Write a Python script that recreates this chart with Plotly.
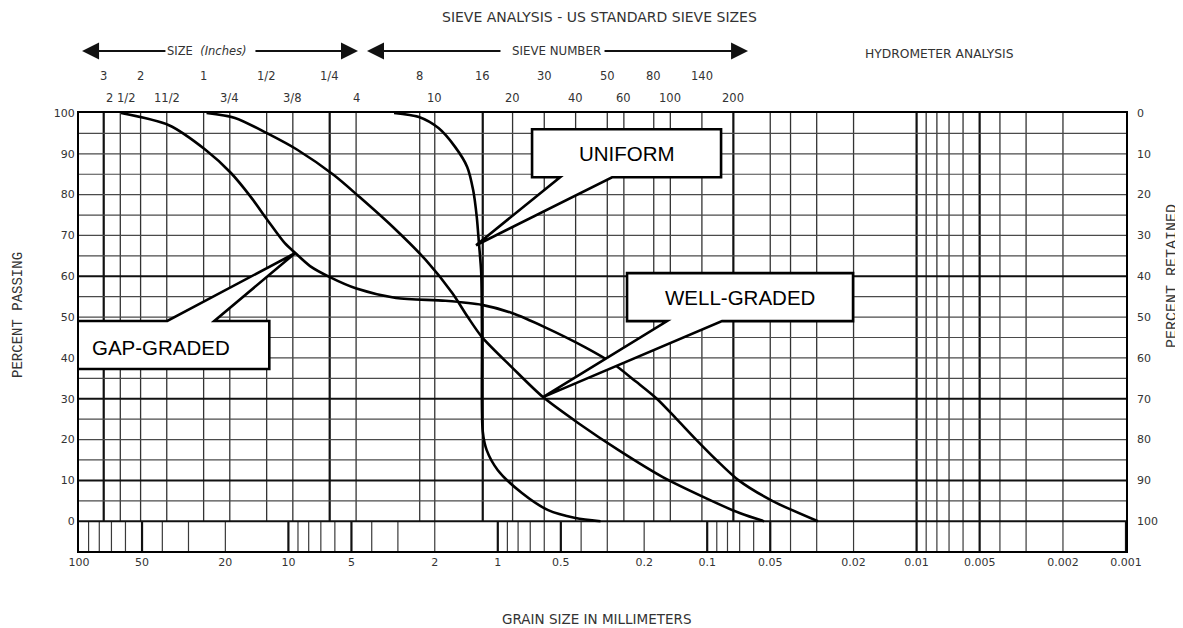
import math
import plotly.graph_objects as go

# ---------------- data: grain size (mm) vs percent passing ----------------
well_size = [24.6, 18.0, 12.6, 9.07, 6.07, 4.57, 3.16, 2.21, 1.65, 1.39, 1.19, 0.856,
             0.608, 0.412, 0.265, 0.163, 0.101, 0.070, 0.0535]
well_pass = [100, 98.8, 95, 91, 84.8, 79.4, 72, 64, 55.9, 50, 45.1, 37.7,
             30.4, 24, 17.4, 10.8, 5.6, 2, 0]

gap_size = [63, 37.2, 24.9, 18.8, 15.1, 12.6, 10.4, 9.27, 7.88, 6.34, 4.73, 3.06, 1.78,
            1.19, 0.856, 0.594, 0.382, 0.283, 0.219, 0.174, 0.141, 0.113, 0.0904,
            0.0707, 0.0489, 0.0296]
gap_pass = [100, 97, 91, 85.3, 79.4, 73.8, 68.1, 65.7, 62.5, 59.8, 57, 54.7, 54.0,
            53, 51, 47.5, 42.6, 38.7, 34.2, 30, 25.2, 20, 15,
            10, 5, 0]

uni_size = [3.13, 2.38, 1.92, 1.60, 1.40, 1.31, 1.26, 1.23, 1.20, 1.19, 1.18, 1.13,
            1.0, 0.767, 0.575, 0.426, 0.323]
uni_pass = [100, 99, 96.3, 91.7, 86.8, 81, 74.5, 68, 60.8, 45, 22, 17.4,
            12.5, 6.9, 2.7, 0.8, 0]

# sieve openings (mm) and their labels
inch_row1_size = [76.2, 50.8, 25.4, 12.7, 6.35]
inch_row1_text = ["3", "2", "1", "1/2", "1/4"]
inch_row2_size = [63.5, 38.1, 19.05, 9.525, 4.75]
inch_row2_text = ["2 1/2", "11/2", "3/4", "3/8", "4"]
sieve_row1_size = [2.36, 1.18, 0.6, 0.3, 0.18, 0.106]
sieve_row1_text = ["8", "16", "30", "50", "80", "140"]
sieve_row2_size = [2.0, 0.85, 0.425, 0.25, 0.15, 0.075]
sieve_row2_text = ["10", "20", "40", "60", "100", "200"]
hydro_sizes = [0.05, 0.04, 0.03, 0.02, 0.01, 0.009, 0.008, 0.007, 0.006,
               0.005, 0.004, 0.003, 0.002]
bold_sizes = [76.2, 6.35, 1.18, 0.075, 0.01, 0.005]

x_tickvals = [100, 50, 20, 10, 5, 2, 1, 0.5, 0.2, 0.1, 0.05, 0.02, 0.01, 0.005, 0.002, 0.001]
x_ticktext = ["100", "50", "20", "10", "5", "2", "1", "0.5", "0.2", "0.1", "0.05",
              "0.02", "0.01", "0.005", "0.002", "0.001"]
y_ticks = list(range(0, 101, 10))

# callouts: label, anchor (mm, % passing)
callouts = [
    ("UNIFORM", 1.27, 67.6),
    ("WELL-GRADED", 0.608, 30.4),
    ("GAP-GRADED", 9.27, 65.7),
]

YMIN = -7.3
TXT = "#333333"
FONT = "DejaVu Sans"
PLOT_W = 1047

fig = go.Figure()


def vsegs(xs, y0, y1):
    X, Y = [], []
    for v in xs:
        X += [v, v, None]
        Y += [y0, y1, None]
    return X, Y


def hsegs(ys, x0, x1):
    X, Y = [], []
    for v in ys:
        X += [x0, x1, None]
        Y += [v, v, None]
    return X, Y


def add_lines(X, Y, width, color):
    fig.add_trace(go.Scatter(x=X, y=Y, mode="lines", line=dict(color=color, width=width),
                             hoverinfo="skip", showlegend=False))


# main grid verticals
all_sieves = inch_row1_size + inch_row2_size + sieve_row1_size + sieve_row2_size + hydro_sizes
thin_v = [s for s in all_sieves if s not in bold_sizes]
add_lines(*vsegs(thin_v, 0, 100), 1.3, "#333333")
add_lines(*vsegs(bold_sizes, 0, 100), 2.2, "#111111")

# bottom strip: log minor ticks
strip_thin, strip_bold = [], []
for n in range(-3, 2):
    for k in range(1, 10):
        v = k * 10 ** n
        if v < 0.001 or v > 100:
            continue
        (strip_bold if k in (1, 5) else strip_thin).append(v)
add_lines(*vsegs(strip_thin, YMIN, 0), 1.2, "#3a3a3a")
add_lines(*vsegs(strip_bold, YMIN, 0), 2.2, "#111111")

# horizontal lines
h_bold = [0, 10, 30, 60]
h_thin = [v for v in range(5, 100, 5) if v not in h_bold]
add_lines(*hsegs(h_thin, 100, 0.001), 1.2, "#4a4a4a")
add_lines(*hsegs(h_bold, 100, 0.001), 2.0, "#111111")

# curves
for xs, ys in [(well_size, well_pass), (gap_size, gap_pass), (uni_size, uni_pass)]:
    fig.add_trace(go.Scatter(x=xs, y=ys, mode="lines",
                             line=dict(color="black", width=2.6, shape="spline", smoothing=0.8),
                             hoverinfo="skip", showlegend=False))

# invisible trace on the retained axis
fig.add_trace(go.Scatter(x=uni_size, y=[100 - p for p in uni_pass], yaxis="y2", mode="lines",
                         line=dict(color="rgba(0,0,0,0)"), hoverinfo="skip", showlegend=False))

annotations = []
shapes = []

# callout boxes (pixel paths anchored at data points)
paths = {
    "UNIFORM": ("M 0,0 L 84,68 L 56,68 L 56,116 L 245,116 L 245,68 L 136,68 Z", 151, 92),
    "WELL-GRADED": ("M 0,0 L 124,76 L 84,76 L 84,124 L 310,124 L 310,76 L 179,76 Z", 197, 100),
    "GAP-GRADED": ("M 0,0 L -128,-68 L -242,-68 L -242,-116 L -26,-116 L -26,-68 L -81,-68 Z", -134, -94),
}
for label, cx, cy in callouts:
    p, tx, ty = paths[label]
    shapes.append(dict(type="path", xref="x", yref="y", xsizemode="pixel", ysizemode="pixel",
                       xanchor=cx, yanchor=cy, path=p, fillcolor="white",
                       line=dict(color="black", width=2.6), layer="above"))
    annotations.append(dict(x=math.log10(cx), y=cy, xref="x", yref="y", text=label,
                            showarrow=False, xshift=tx, yshift=ty,
                            xanchor="center", yanchor="middle",
                            font=dict(family="Liberation Sans, Arial", size=20.5, color="black")))

# top sieve labels
for sizes, texts, yp in [(inch_row1_size, inch_row1_text, 1.0845), (inch_row2_size, inch_row2_text, 1.0342),
                         (sieve_row1_size, sieve_row1_text, 1.0845), (sieve_row2_size, sieve_row2_text, 1.0342)]:
    for s, t in zip(sizes, texts):
        annotations.append(dict(x=math.log10(s), y=yp, xref="x", yref="paper", text=t,
                                showarrow=False, xanchor="center", yanchor="middle",
                                font=dict(family=FONT, size=11.5, color=TXT)))


# headers
def ptxt(text, x, y, size=11.5, angle=0, family=FONT):
    annotations.append(dict(x=x, y=y, xref="paper", yref="paper", text=text, showarrow=False,
                            xanchor="center", yanchor="middle", textangle=angle,
                            font=dict(family=family, size=size, color=TXT)))


ptxt("SIEVE ANALYSIS - US STANDARD SIEVE SIZES", 0.4976, 1.2192, size=14)
ptxt("HYDROMETER ANALYSIS", 0.8214, 1.1347, size=12.3)
ptxt("SIZE  <i>(Inches)</i>", 0.1227, 1.1416, size=11.5)
ptxt("SIEVE NUMBER", 0.4556, 1.1416, size=11.8)
ptxt("GRAIN SIZE IN MILLIMETERS", 0.4938, -0.1553, size=13.5)
ptxt("PERCENT PASSING", -0.0583, 0.5388, size=14, angle=-90, family="Liberation Mono")
ptxt("PERCENT RETAINED", 1.0449, 0.6279, size=15, angle=-90, family="Liberation Mono")

# header arrows (tip, tail in paper x)
for tip, tail in [(0.0029, 0.084), (0.2665, 0.1671), (0.2751, 0.404), (0.639, 0.5005)]:
    annotations.append(dict(x=tip, y=1.1416, xref="paper", yref="paper",
                            ax=(tail - tip) * PLOT_W, ay=0, axref="pixel", ayref="pixel",
                            text="", showarrow=True,
                            arrowhead=2, arrowsize=1.7, arrowwidth=2, arrowcolor="#111111"))

# page body has an 8px default margin: figure is 8px smaller, margins shifted by 8px
fig.update_layout(
    width=1175, height=620,
    margin=dict(l=71, r=57, t=105, b=77),
    paper_bgcolor="white", plot_bgcolor="white",
    xaxis=dict(type="log", range=[2, -3], showgrid=False, zeroline=False,
               tickvals=x_tickvals, ticktext=x_ticktext, ticks="",
               tickfont=dict(family=FONT, size=11, color=TXT),
               showline=True, mirror=True, linecolor="black", linewidth=2),
    yaxis=dict(range=[YMIN, 100], showgrid=False, zeroline=False, tickvals=y_ticks,
               ticks="", tickfont=dict(family=FONT, size=11, color=TXT),
               showline=True, mirror=True, linecolor="black", linewidth=2),
    yaxis2=dict(range=[100 - YMIN, 0], overlaying="y", side="right", showgrid=False,
                zeroline=False, tickvals=y_ticks, ticks="", ticklabelstandoff=10,
                tickfont=dict(family=FONT, size=11, color=TXT), showline=False),
    annotations=annotations,
    shapes=shapes,
    showlegend=False,
)

fig.write_html("out.html")
